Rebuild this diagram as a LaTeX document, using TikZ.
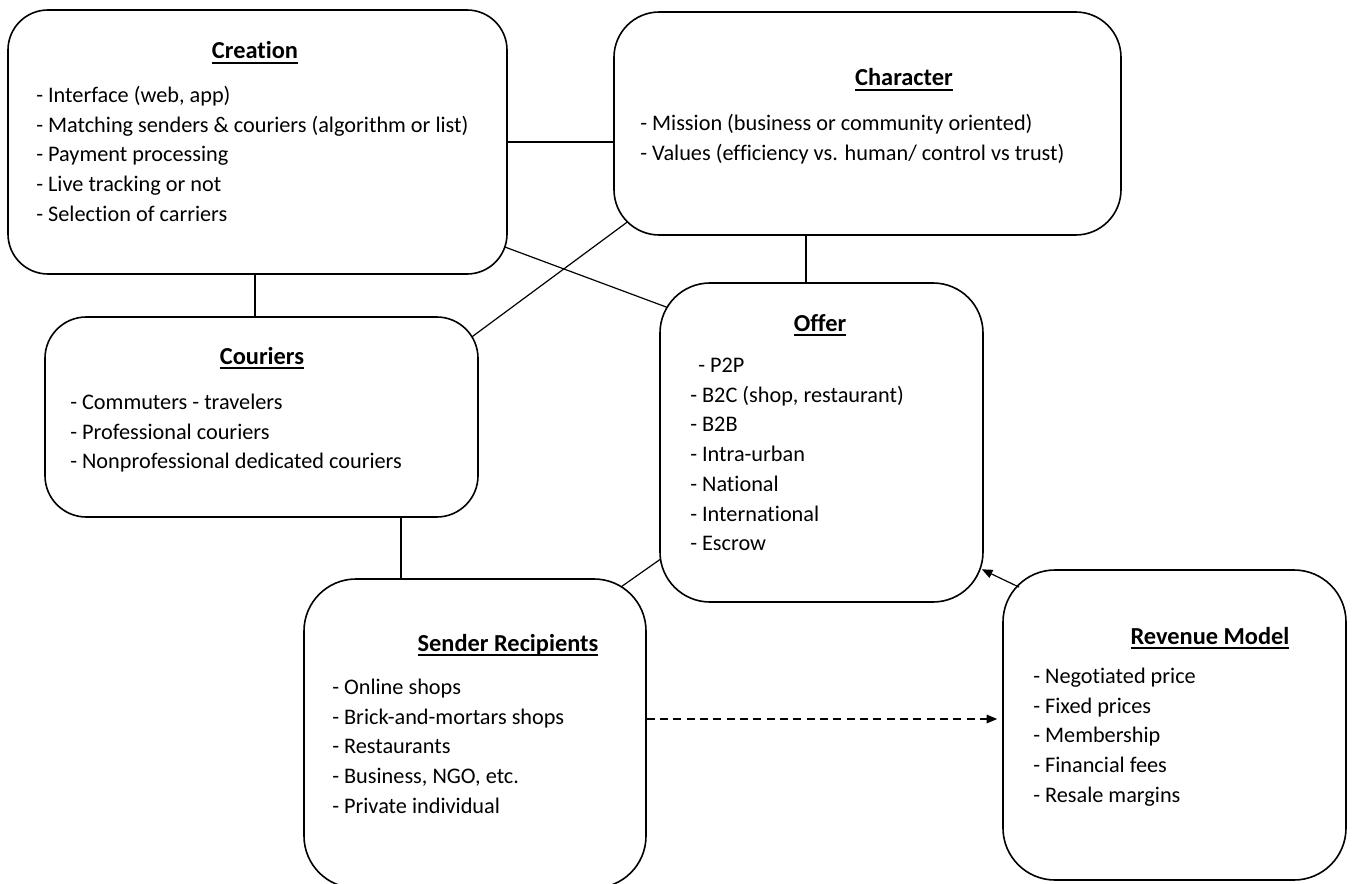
\documentclass[tikz,border=0pt]{standalone}
\usepackage{fontspec}
\setmainfont{Carlito}[Ligatures={NoCommon}]
\usetikzlibrary{arrows.meta,fit,backgrounds}

% bold heading with a straight rule under the baseline
\newcommand\headingrule[1]{\vtop{\hbox{\raisebox{0pt}[\height][0pt]{#1}}\kern2.4pt\hrule height 1.1pt}}

\begin{document}
\begin{tikzpicture}[x=0.75pt,y=-0.75pt,
  box/.style={draw,line width=1.2pt,fill=white,inner sep=0pt,rounded corners=#1},
  heading/.style={anchor=base,inner sep=0pt,font=\fontsize{18.3}{22}\selectfont\bfseries},
  items/.style={anchor=north west,inner sep=0pt,align=left,font=\fontsize{16.7}{22.3}\selectfont},
  link/.style={line width=0.9pt},
  tip/.style={-{Triangle[length=8pt,width=6.5pt]}}
]
\useasboundingbox (0,0) rectangle (1353,884);
\begin{scope}[on background layer]
  \fill[white] (0,0) rectangle (1353,884);
\end{scope}

% boxes
\node[box=30pt,fit={(8,10) (507,274)}] (creation) {};
\node[box=34pt,fit={(614,12) (1121,235)}] (character) {};
\node[box=31pt,fit={(45,317) (478,517)}] (couriers) {};
\node[box=37.5pt,fit={(660,283) (983,602)}] (offer) {};
\node[box=39pt,fit={(304,579) (646,888)}] (sender) {};
\node[box=39pt,fit={(1003,570) (1346,880)}] (revenue) {};

% headings
\node[heading] (creation-h) at (255,59) {\headingrule{Creation}};
\node[heading] (character-h) at (904,86) {\headingrule{Character}};
\node[heading] (couriers-h) at (262,364) {\headingrule{Couriers}};
\node[heading] (offer-h) at (820,331) {\headingrule{Offer}};
\node[heading] (sender-h) at (508,651) {\headingrule{Sender Recipients}};
\node[heading] (revenue-h) at (1210,644) {\headingrule{Revenue Model}};

% item lists
\node[items] (creation-l) at (36,81.4) {\strut- Interface (web, app)\\- Matching senders \& couriers (algorithm or list)\\- Payment processing\\- Live tracking or not\\- Selection of carriers};
\node[items] (character-l) at (640,109.4) {\strut- Mission (business or community oriented)\\- Values (efficiency vs. human/ control vs trust)};
\node[items] (couriers-l) at (70,388.4) {\strut- Commuters - travelers\\- Professional couriers\\- Nonprofessional dedicated couriers};
\node[items] (offer-l) at (690,351.4) {\strut\hspace*{6pt}- P2P\\- B2C (shop, restaurant)\\- B2B\\- Intra-urban\\- National\\- International\\- Escrow};
\node[items] (sender-l) at (332,673.4) {\strut- Online shops\\- Brick-and-mortars shops\\- Restaurants\\- Business, NGO, etc.\\- Private individual};
\node[items] (revenue-l) at (1033,662.4) {\strut- Negotiated price\\- Fixed prices\\- Membership\\- Financial fees\\- Resale margins};

% connectors, kept under the boxes
\begin{scope}[on background layer]
  \draw[link] (creation.east) -- (creation.east -| character.west);
  \draw[link] ([shift={(-11,-30.8)}]creation.south east) -- ([shift={(15,27.8)}]offer.north west);
  \draw[link] ([shift={(19,-17.4)}]character.south west) -- ([shift={(-16,27.4)}]couriers.north east);
  \draw[link] ([shift={(-2.5,0)}]creation.south) -- ([shift={(-2.5,0)}]creation.south |- couriers.north);
  \draw[link] ([shift={(-15.5,0)}]offer.north) -- ([shift={(-15.5,0)}]offer.north |- character.south);
  \draw[link] ([shift={(-74,0)}]sender.north) -- ([shift={(-74,0)}]sender.north |- couriers.south);
  \draw[link] ([shift={(-32,13.1)}]sender.north east) -- ([shift={(9,-49.1)}]offer.south west);
\end{scope}
\draw[link,tip] ([shift={(17,18)}]revenue.north west) -- ([shift={(-2,-33.5)}]offer.south east);
\draw[link,tip,dash pattern=on 6pt off 4pt,shorten >=3.75pt]
  ([shift={(0,-14.5)}]sender.east) -- ([shift={(0,-14.5)}]sender.east -| revenue.west);
\end{tikzpicture}
\end{document}
